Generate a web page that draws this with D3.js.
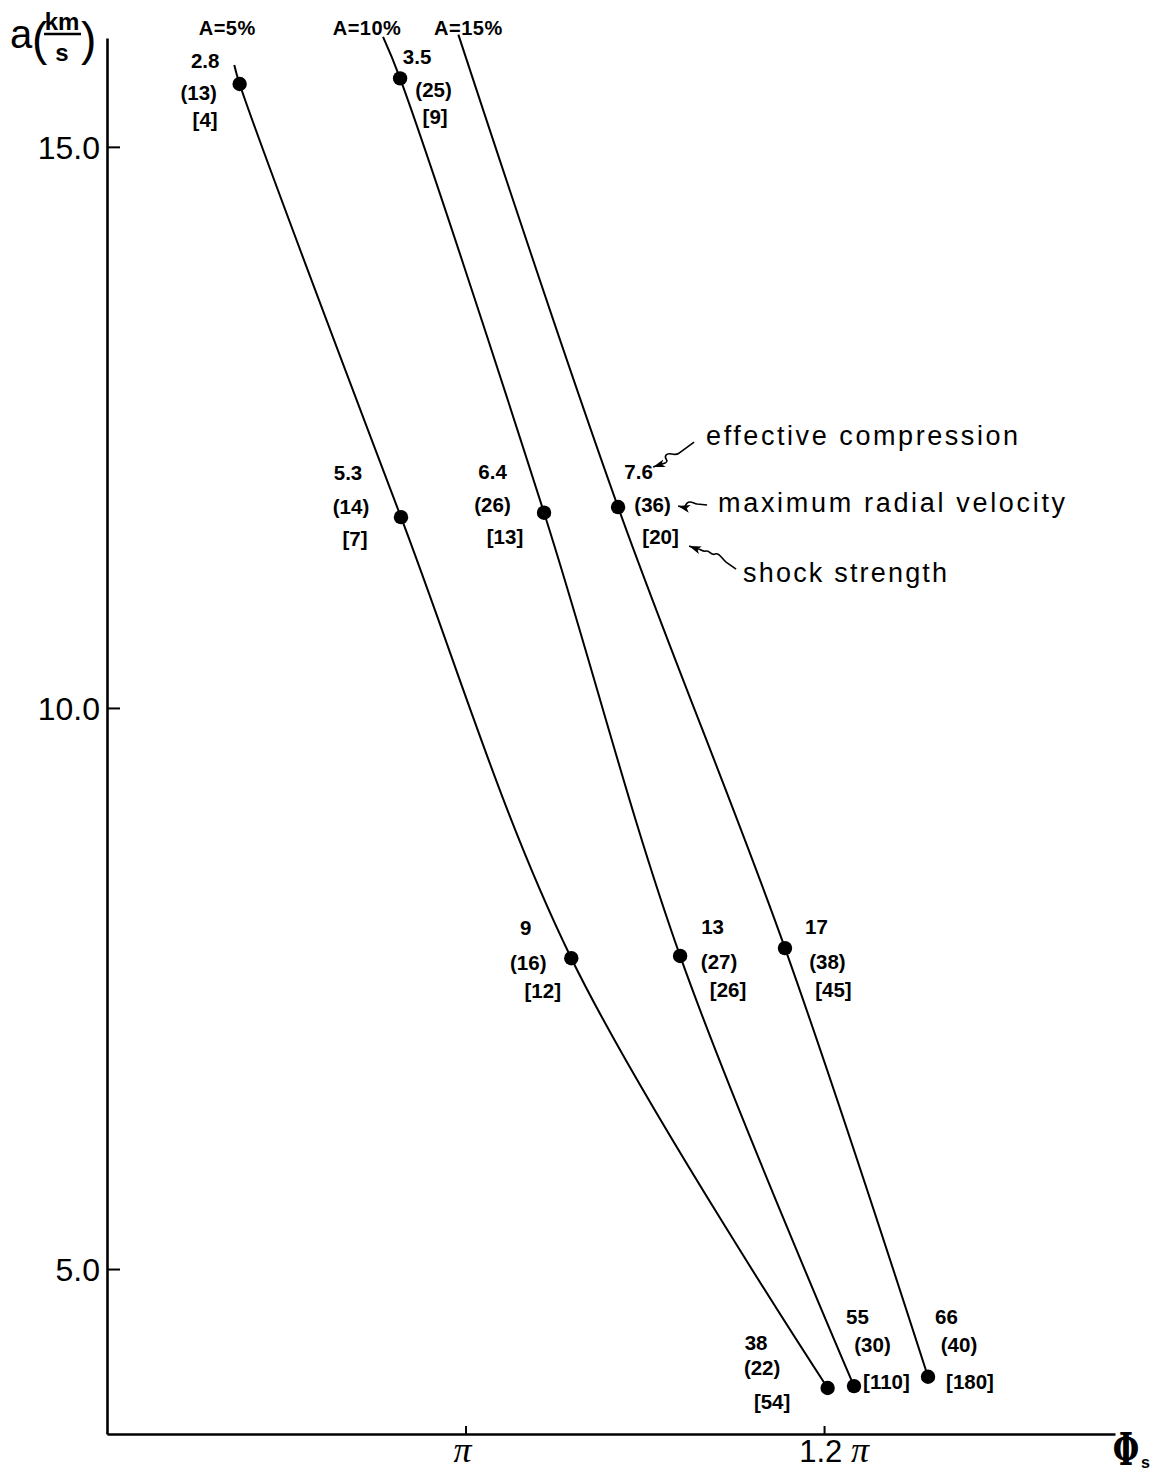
<!DOCTYPE html>
<html>
<head>
<meta charset="utf-8">
<script src="https://cdn.jsdelivr.net/npm/d3@7"></script>
<style>
  html, body { margin: 0; padding: 0; background: #fff; }
  svg { display: block; }
  text { fill: #000; }
</style>
</head>
<body>
<svg id="chart" width="1159" height="1480"></svg>
<script>
// ---- data -------------------------------------------------------------
// Curves of shock-front phase vs. amplitude a (km/s) for three relative amplitudes A.
const categories = ["A=5%", "A=10%", "A=15%"];

// unmarked upper end of each curve (phase in units of pi, a in km/s)
const startPhi = [0.871, 0.954, 0.996];
const startA   = [15.73, 15.98, 16.0];

// marked points
const phiA5  = [0.874, 0.964, 1.059, 1.202];
const aA5    = [15.56, 11.70, 7.77, 3.94];
const phiA10 = [0.9635, 1.0438, 1.1197, 1.2167];
const aA10   = [15.61, 11.74, 7.79, 3.957];
const phiA15 = [1.0851, 1.1782, 1.258];
const aA15   = [11.79, 7.86, 4.04];

// labels at each point: effective compression, (maximum radial velocity), [shock strength]
const compA5  = ["2.8", "5.3", "9", "38"];
const velA5   = ["(13)", "(14)", "(16)", "(22)"];
const shockA5 = ["[4]", "[7]", "[12]", "[54]"];
const compA10  = ["3.5", "6.4", "13", "55"];
const velA10   = ["(25)", "(26)", "(27)", "(30)"];
const shockA10 = ["[9]", "[13]", "[26]", "[110]"];
const compA15  = ["7.6", "17", "66"];
const velA15   = ["(36)", "(38)", "(40)"];
const shockA15 = ["[20]", "[45]", "[180]"];

// axis ticks
const xTicks = [1.0, 1.2];
const xTickLabels = ["π", "1.2 π"];
const yTicks = [5, 10, 15];
const yTickLabels = ["5.0", "10.0", "15.0"];

// ---- layout -----------------------------------------------------------
// label-line offsets (px) from each point, lines: compression, velocity, shock
const labelOffsets = [
  [ [[-34.5,-23],[-41,9],[-34.5,36]], [[-53,-45],[-50,-11],[-46,21]], [[-45.5,-31],[-43,4],[-28.5,32]], [[-71.5,-45],[-65.5,-20],[-55.5,14]] ],
  [ [[17,-22],[33.5,11],[35,38]], [[-51.5,-41],[-51.5,-8],[-39,24]], [[32.5,-29],[39,6],[48,34]], [[3.5,-69],[18.5,-41],[32.5,-4]] ],
  [ [[20.5,-35],[34.5,-2],[42.5,30]], [[31.5,-21],[42.5,14],[48.5,42]], [[18.5,-60],[31,-32],[42,5]] ]
];
// curve-name offsets from each curve's upper end
const nameOffsets = [[-7, -30], [-16, -2], [10, 0]];

const svg = d3.select("#chart");
svg.append("rect").attr("width", 1159).attr("height", 1480).attr("fill", "#fff");

const x = d3.scaleLinear().domain([0.8, 1.3623]).range([107, 1115]);
const y = d3.scaleLinear().domain([3.53, 15.97]).range([1434, 38]);

const series = [
  { phi: phiA5,  a: aA5,  comp: compA5,  vel: velA5,  shock: shockA5 },
  { phi: phiA10, a: aA10, comp: compA10, vel: velA10, shock: shockA10 },
  { phi: phiA15, a: aA15, comp: compA15, vel: velA15, shock: shockA15 }
];

// ---- axes -------------------------------------------------------------
const xAxis = d3.axisBottom(x).tickValues(xTicks).tickSizeInner(-8).tickSizeOuter(0)
  .tickPadding(14).tickFormat(() => "");
const gx = svg.append("g").attr("transform", "translate(0,1434)").call(xAxis);
gx.select(".domain").attr("stroke", "#000").attr("stroke-width", 2.6);
gx.selectAll(".tick line").attr("stroke", "#000").attr("stroke-width", 2);

// tick labels with italic pi
xTicks.forEach((t, i) => {
  const parts = xTickLabels[i].split(" ");
  const txt = svg.append("text")
    .attr("x", x(t) + (parts.length > 1 ? 10 : -3))
    .attr("y", 1462)
    .attr("text-anchor", "middle")
    .style("font-family", "'Liberation Sans', Arial, sans-serif")
    .style("font-size", "31px");
  if (parts.length > 1) {
    txt.append("tspan").text(parts[0] + " ");
  }
  txt.append("tspan").text(parts[parts.length - 1])
    .style("font-family", "'Liberation Serif', 'DejaVu Serif', serif")
    .style("font-style", "italic").style("font-size", "36px");
});

const yAxis = d3.axisLeft(y).tickValues(yTicks).tickSizeInner(-13).tickSizeOuter(0)
  .tickPadding(7).tickFormat((d, i) => yTickLabels[i]);
const gy = svg.append("g").attr("transform", "translate(107,0)").call(yAxis);
gy.select(".domain").attr("stroke", "#000").attr("stroke-width", 2.6);
gy.selectAll(".tick line").attr("stroke", "#000").attr("stroke-width", 2);
gy.selectAll(".tick text")
  .attr("dy", "0.36em")
  .style("font-family", "'Liberation Sans', Arial, sans-serif")
  .style("font-size", "32px")
  .style("font-weight", "300");

// y-axis title a(km/s)
const yTitle = svg.append("g").style("font-family", "'Liberation Sans', Arial, sans-serif");
yTitle.append("text").attr("x", 10).attr("y", 48).style("font-size", "40px").text("a");
yTitle.append("text").attr("x", 32).attr("y", 55).style("font-size", "46px").text("(");
yTitle.append("text").attr("x", 62).attr("y", 30).attr("text-anchor", "middle")
  .style("font-size", "24px").style("font-weight", "bold").text("km");
yTitle.append("line").attr("x1", 44).attr("x2", 81).attr("y1", 34).attr("y2", 34)
  .attr("stroke", "#000").attr("stroke-width", 2.5);
yTitle.append("text").attr("x", 62).attr("y", 61).attr("text-anchor", "middle")
  .style("font-size", "24px").style("font-weight", "bold").text("s");
yTitle.append("text").attr("x", 81).attr("y", 55).style("font-size", "46px").text(")");

// x-axis title Φs
svg.append("text")
  .attr("transform", "translate(1126,1465) scale(0.8,1.2)")
  .attr("text-anchor", "middle")
  .style("font-family", "'DejaVu Serif', 'Liberation Serif', serif")
  .style("font-weight", "bold").style("font-size", "38px").text("Φ");
svg.append("text").attr("x", 1141).attr("y", 1468)
  .style("font-family", "'Liberation Sans', Arial, sans-serif")
  .style("font-weight", "bold").style("font-size", "16px").text("s");

// ---- curves, points, labels ---------------------------------------------
const line = d3.line()
  .x(d => x(d[0])).y(d => y(d[1]))
  .curve(d3.curveCatmullRom.alpha(0.5));

const labelFont = "'Liberation Sans', Arial, sans-serif";

series.forEach((s, si) => {
  const pts = [[startPhi[si], startA[si]]].concat(s.phi.map((p, i) => [p, s.a[i]]));
  svg.append("path").datum(pts)
    .attr("d", line)
    .attr("fill", "none").attr("stroke", "#000").attr("stroke-width", 2);

  svg.append("g").selectAll("circle").data(s.phi).join("circle")
    .attr("cx", d => x(d)).attr("cy", (d, i) => y(s.a[i])).attr("r", 7.2)
    .attr("fill", "#000");

  s.phi.forEach((p, i) => {
    const px = x(p), py = y(s.a[i]);
    const lines = [s.comp[i], s.vel[i], s.shock[i]];
    lines.forEach((t, k) => {
      const off = labelOffsets[si][i][k];
      svg.append("text")
        .attr("x", px + off[0]).attr("y", py + off[1])
        .attr("dy", "0.36em").attr("text-anchor", "middle")
        .style("font-family", labelFont).style("font-weight", "bold")
        .style("font-size", "20.5px").text(t);
    });
  });

  // curve name at the top end
  svg.append("text")
    .attr("x", x(startPhi[si]) + nameOffsets[si][0])
    .attr("y", y(startA[si]) + nameOffsets[si][1])
    .attr("text-anchor", "middle")
    .style("font-family", labelFont).style("font-weight", "bold")
    .style("font-size", "20px").style("letter-spacing", "0.5px")
    .text(categories[si]);
});

// ---- key to the three label lines, anchored on the A=15% middle point ----
const anchorX = x(phiA15[0]), anchorY = y(aA15[0]);
const defs = svg.append("defs");
defs.append("marker").attr("id", "head")
  .attr("markerUnits", "userSpaceOnUse")
  .attr("markerWidth", 14).attr("markerHeight", 10)
  .attr("refX", 12).attr("refY", 4).attr("orient", "auto")
  .append("path").attr("d", "M0,0 L12,4 L0,8 L3,4 z").attr("fill", "#000");

const key = svg.append("g").attr("transform", `translate(${anchorX},${anchorY})`);
const squiggles = [
  "M76,-65 L61,-54 C56,-50 51,-56 48,-52 C45,-48 52,-47 47,-44 L35,-40",
  "M89,-2 L79,-3 C75,-4 72,-7 69,-4 C66,-1 68,1 64,0 L60,-1",
  "M118,62 L108,55 C103,51 101,45 97,47 C93,49 92,43 88,44 C84,45 82,41 79,42 L71,39"
];
squiggles.forEach(d => key.append("path").attr("d", d)
  .attr("fill", "none").attr("stroke", "#000").attr("stroke-width", 1.6)
  .attr("marker-end", "url(#head)"));

const keyTexts = [
  { t: "effective compression",   dx: 88,  dy: -62, w: 312 },
  { t: "maximum radial velocity", dx: 100, dy: 5,   w: 347 },
  { t: "shock strength",          dx: 125, dy: 75,  w: 204 }
];
keyTexts.forEach(k => key.append("text")
  .attr("x", k.dx).attr("y", k.dy)
  .attr("textLength", k.w).attr("lengthAdjust", "spacing")
  .style("font-family", labelFont).style("font-size", "27px").text(k.t));
</script>
</body>
</html>
